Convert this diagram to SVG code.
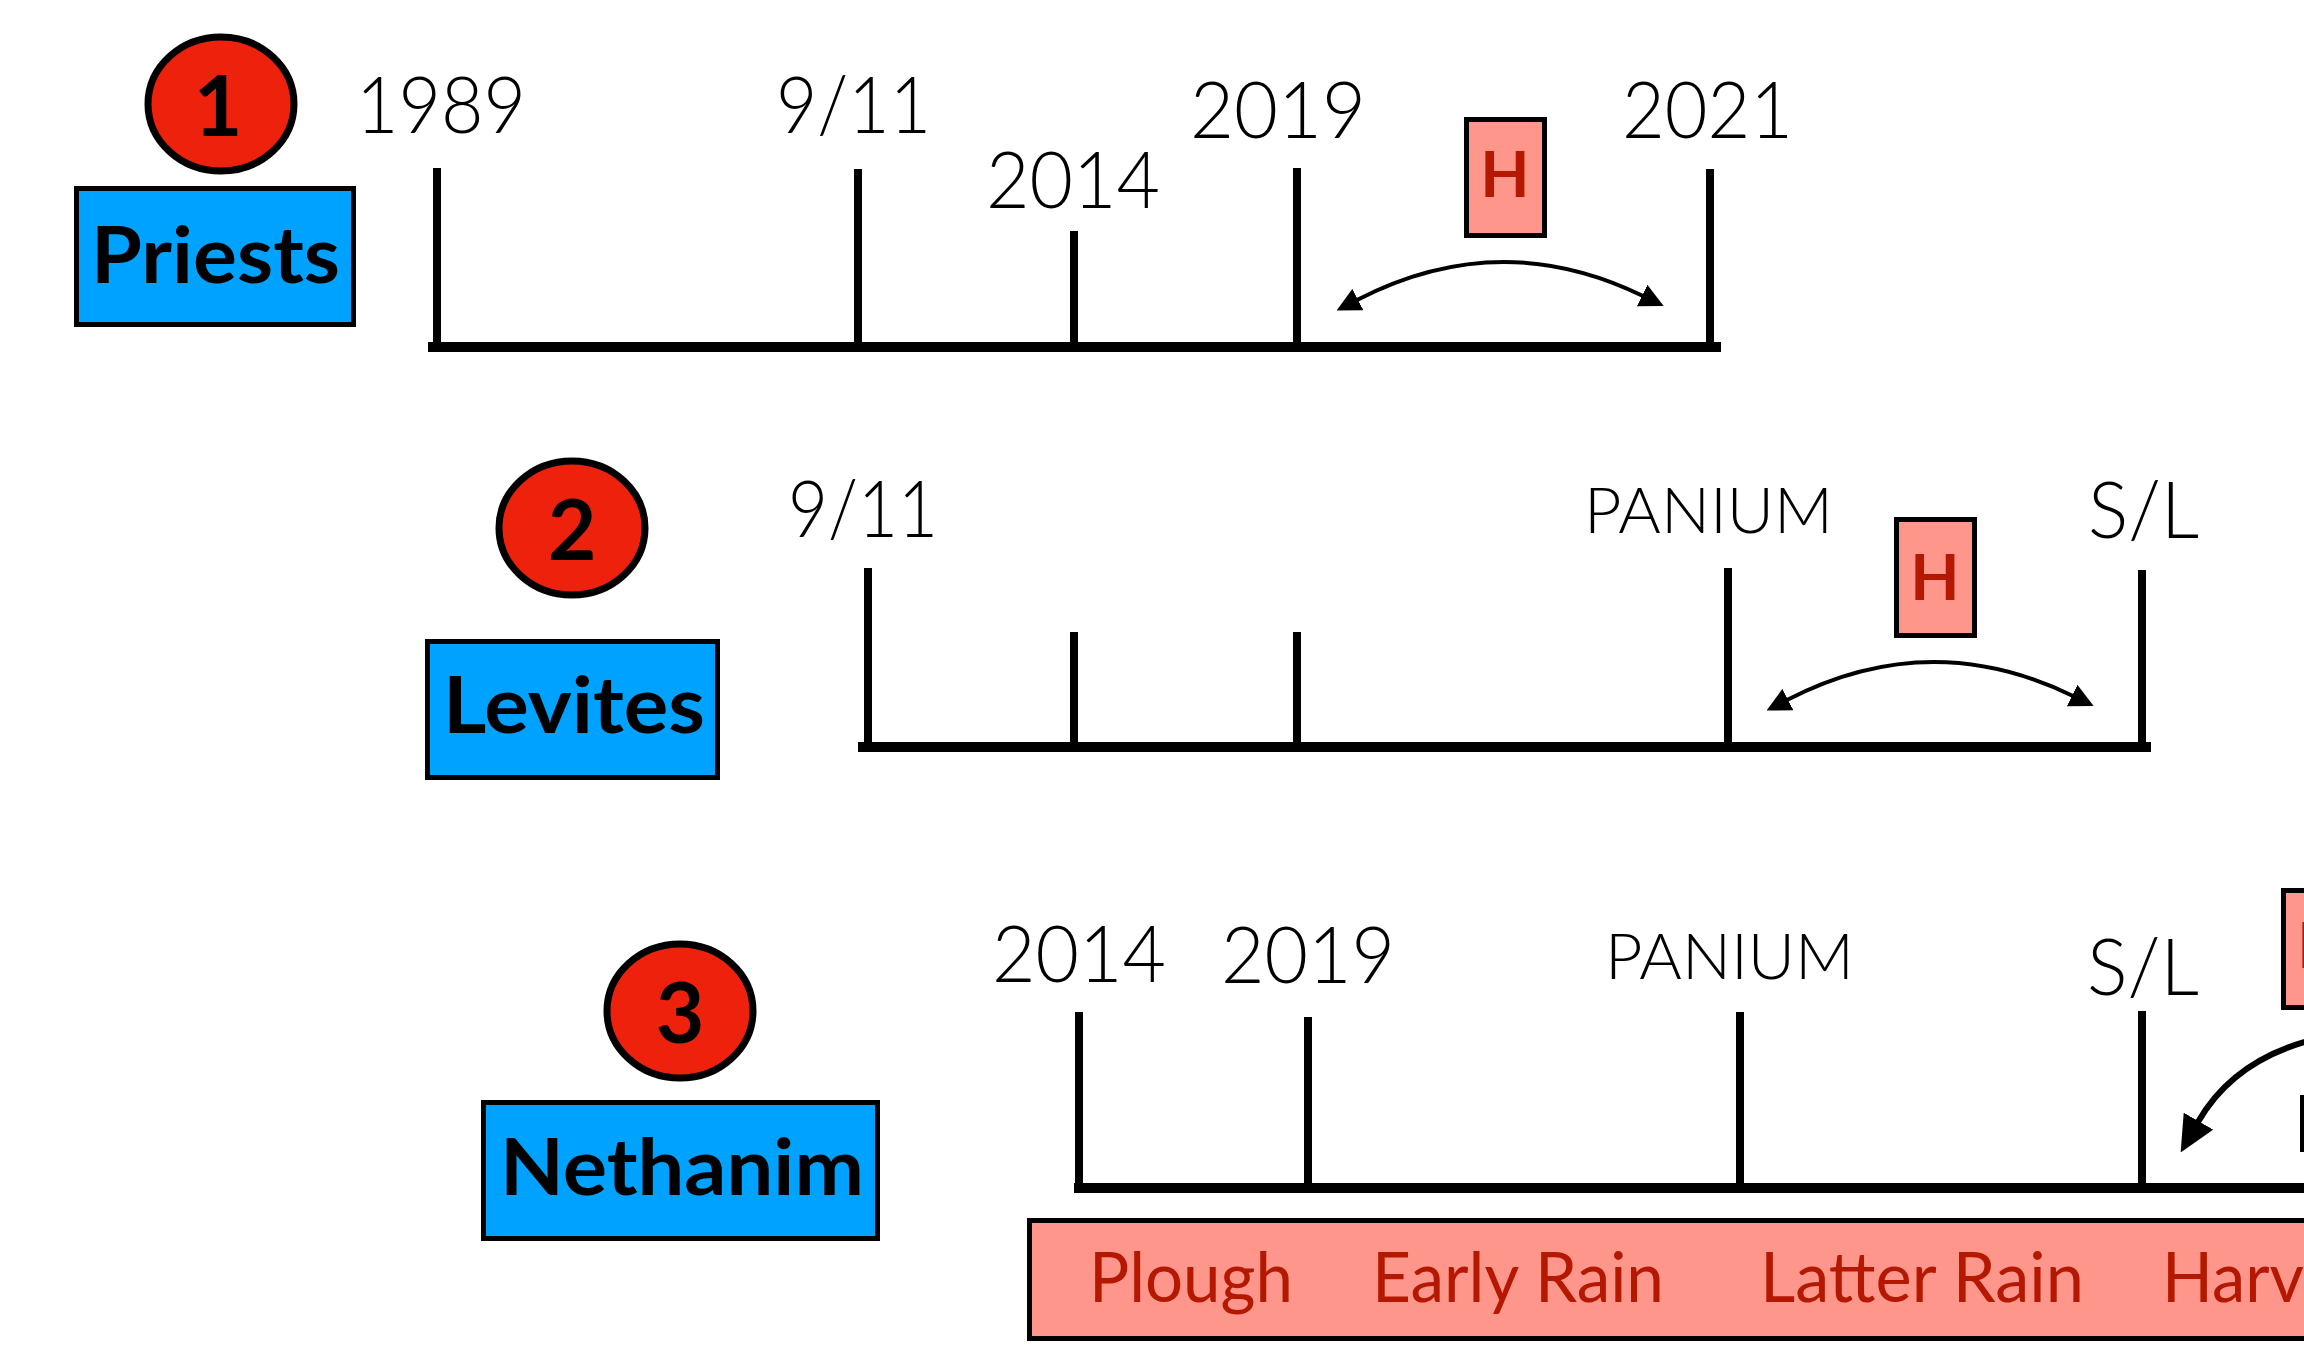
<svg xmlns="http://www.w3.org/2000/svg" width="2304" height="1355" viewBox="0 0 2304 1355">
<defs>
<style>
.bg{fill:#ffffff}
.num{fill:#EE220C;stroke:#000;stroke-width:7}
.numt{font-family:Lato,"Liberation Sans",sans-serif;font-weight:700;font-size:84px;fill:#000;text-anchor:middle}
.grp{fill:#00A2FF;stroke:#000;stroke-width:5}
.grpt{font-family:Lato,"Liberation Sans",sans-serif;font-weight:700;font-size:78px;fill:#000}
.lbl{font-family:Lato,"Open Sans","Liberation Sans",sans-serif;font-weight:300;font-size:78px;fill:#000}
.lbls{font-family:Lato,"Open Sans","Liberation Sans",sans-serif;font-weight:300;font-size:64px;fill:#000}
.hbox{fill:#FF968C;stroke:#000;stroke-width:5}
.ht{font-family:Lato,"Liberation Sans",sans-serif;font-weight:700;font-size:64px;fill:#B41800;text-anchor:middle}
.season{font-family:Lato,"Liberation Sans",sans-serif;font-weight:400;font-size:70px;fill:#B41800}
.axis{stroke:#000;stroke-width:10;fill:none}
.tick{stroke:#000;stroke-width:8;fill:none}
.arc{stroke:#000;stroke-width:4;fill:none;marker-start:url(#ahs);marker-end:url(#ahe)}
.arc2{stroke:#000;stroke-width:6;fill:none;marker-end:url(#ahb)}
</style>
<marker id="ahe" markerUnits="userSpaceOnUse" markerWidth="24" markerHeight="24" viewBox="0 0 24 24" refX="1" refY="12" orient="auto"><path d="M0,0 L24,12 L0,24 z" fill="#000"/></marker>
<marker id="ahs" markerUnits="userSpaceOnUse" markerWidth="24" markerHeight="24" viewBox="0 0 24 24" refX="1" refY="12" orient="auto-start-reverse"><path d="M0,0 L24,12 L0,24 z" fill="#000"/></marker>
<marker id="ahb" markerUnits="userSpaceOnUse" markerWidth="36" markerHeight="34" viewBox="0 0 36 34" refX="1" refY="17" orient="auto"><path d="M0,0 L36,17 L0,34 z" fill="#000"/></marker>
</defs>
<rect class="bg" x="0" y="0" width="2304" height="1355"/>

<!-- Row 1: Priests -->
<g id="row1-number"><ellipse class="num" cx="221" cy="104" rx="73" ry="67"/><text class="numt" x="218" y="136">1</text></g>
<g id="row1-priests"><rect class="grp" x="76.5" y="188.5" width="277" height="136"/><text class="grpt" x="91" y="283" textLength="249" lengthAdjust="spacingAndGlyphs">Priests</text></g>
<g id="row1-labels">
<text class="lbl" x="356" y="133" textLength="170" lengthAdjust="spacingAndGlyphs">1989</text>
<text class="lbl" x="776" y="133" textLength="155" lengthAdjust="spacingAndGlyphs">9/11</text>
<text class="lbl" x="986" y="208" textLength="174" lengthAdjust="spacingAndGlyphs">2014</text>
<text class="lbl" x="1190" y="138" textLength="176" lengthAdjust="spacingAndGlyphs">2019</text>
<text class="lbl" x="1622" y="138" textLength="171" lengthAdjust="spacingAndGlyphs">2021</text>
</g>
<g id="row1-h"><rect class="hbox" x="1466.5" y="119.5" width="78" height="116"/><text class="ht" x="1505" y="197">H</text></g>

<!-- Row 2: Levites -->
<g id="row2-number"><ellipse class="num" cx="572" cy="528" rx="73" ry="67"/><text class="numt" x="572" y="560">2</text></g>
<g id="row2-levites"><rect class="grp" x="427.5" y="641.5" width="290" height="136"/><text class="grpt" x="443" y="733" textLength="262" lengthAdjust="spacingAndGlyphs">Levites</text></g>
<g id="row2-labels">
<text class="lbl" x="788" y="537" textLength="150" lengthAdjust="spacingAndGlyphs">9/11</text>
<text class="lbls" x="1584" y="533" textLength="249" lengthAdjust="spacingAndGlyphs">PANIUM</text>
<text class="lbl" x="2088" y="538" textLength="111" lengthAdjust="spacingAndGlyphs">S/L</text>
</g>
<g id="row2-h"><rect class="hbox" x="1896.5" y="519.5" width="78" height="116"/><text class="ht" x="1935" y="600">H</text></g>

<!-- Row 3: Nethanim -->
<g id="row3-number"><ellipse class="num" cx="680" cy="1011" rx="73" ry="67"/><text class="numt" x="680" y="1043">3</text></g>
<g id="row3-nethanim"><rect class="grp" x="483.5" y="1102.5" width="394" height="136"/><text class="grpt" x="500" y="1195" textLength="364" lengthAdjust="spacingAndGlyphs">Nethanim</text></g>
<g id="row3-labels">
<text class="lbl" x="992" y="982" textLength="174" lengthAdjust="spacingAndGlyphs">2014</text>
<text class="lbl" x="1221" y="983" textLength="174" lengthAdjust="spacingAndGlyphs">2019</text>
<text class="lbls" x="1605" y="979" textLength="249" lengthAdjust="spacingAndGlyphs">PANIUM</text>
<text class="lbl" x="2087" y="995" textLength="112" lengthAdjust="spacingAndGlyphs">S/L</text>
</g>
<g id="row3-h"><rect class="hbox" x="2283.5" y="890.5" width="78" height="117"/><text class="ht" x="2322" y="968">H</text></g>
<g id="row3-fragment"><rect x="2300" y="1095" width="5" height="57" fill="#000"/></g>
<g id="row3-seasons"><rect class="hbox" x="1029.5" y="1220.5" width="1300" height="118"/>
<text class="season" x="1089" y="1302" textLength="204" lengthAdjust="spacingAndGlyphs">Plough</text>
<text class="season" x="1372" y="1302" textLength="292" lengthAdjust="spacingAndGlyphs">Early Rain</text>
<text class="season" x="1760" y="1302" textLength="324" lengthAdjust="spacingAndGlyphs">Latter Rain</text>
<text class="season" x="2162" y="1302" textLength="142" lengthAdjust="spacingAndGlyphs">Harv</text>
</g>

<!-- Connectors / timelines -->
<g id="connectors">
<line class="axis" x1="428" y1="347" x2="1721" y2="347"/>
<line class="tick" x1="437" y1="168" x2="437" y2="347"/>
<line class="tick" x1="858" y1="169" x2="858" y2="347"/>
<line class="tick" x1="1074" y1="231" x2="1074" y2="347"/>
<line class="tick" x1="1297" y1="168" x2="1297" y2="347"/>
<line class="tick" x1="1710" y1="169" x2="1710" y2="347"/>
<path class="arc" d="M1357,300 Q1500,226 1643,296"/>

<line class="axis" x1="858" y1="747" x2="2151" y2="747"/>
<line class="tick" x1="868" y1="568" x2="868" y2="747"/>
<line class="tick" x1="1074" y1="632" x2="1074" y2="747"/>
<line class="tick" x1="1297" y1="632" x2="1297" y2="747"/>
<line class="tick" x1="1728" y1="568" x2="1728" y2="747"/>
<line class="tick" x1="2142" y1="570" x2="2142" y2="747"/>
<path class="arc" d="M1787,700 Q1930,626 2073,696"/>

<line class="axis" x1="1074" y1="1188" x2="2304" y2="1188"/>
<line class="tick" x1="1079" y1="1012" x2="1079" y2="1188"/>
<line class="tick" x1="1308" y1="1017" x2="1308" y2="1188"/>
<line class="tick" x1="1740" y1="1012" x2="1740" y2="1188"/>
<line class="tick" x1="2142" y1="1011" x2="2142" y2="1188"/>
<path class="arc2" d="M2340,1034 C2265,1046 2222,1080 2198,1122"/>
</g>
</svg>
